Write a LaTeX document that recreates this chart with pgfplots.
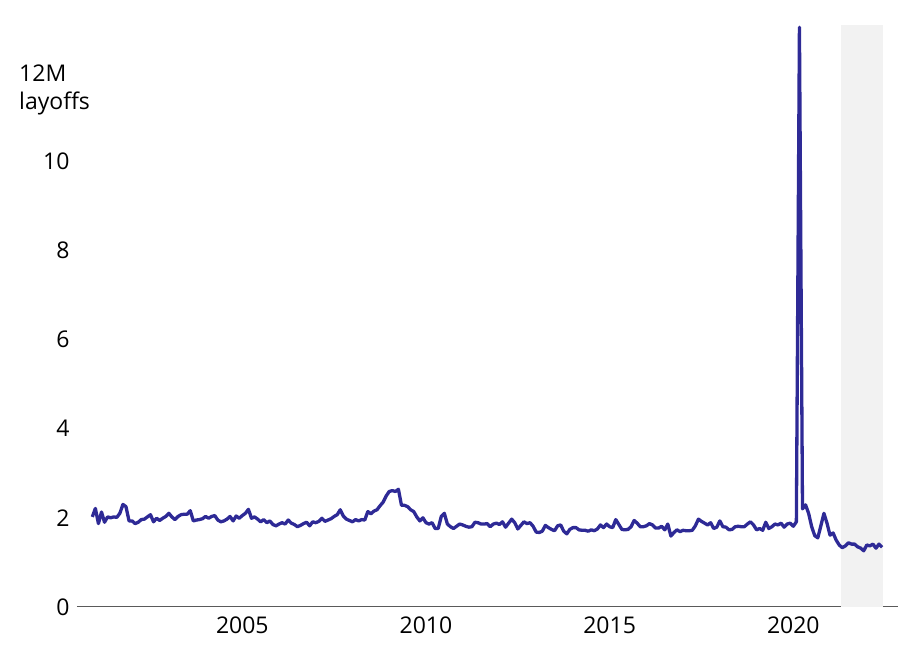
\documentclass[border=0pt]{standalone}
\usepackage{pgfplots}
\pgfplotsset{compat=1.18}
\usepackage{pgfplotstable}
\usepackage{fontspec}
\setmainfont{Open Sans}
\definecolor{lineblue}{RGB}{46,42,150}
\definecolor{shade}{RGB}{242,242,242}
\definecolor{axisgray}{RGB}{90,90,90}
\pgfplotstableread{
k v
0 2.02
1 2.21
2 1.87
3 2.13
4 1.90
5 2.02
6 2.00
7 2.02
8 2.01
9 2.10
10 2.30
11 2.25
12 1.93
13 1.93
14 1.87
15 1.90
16 1.96
17 1.97
18 2.02
19 2.07
20 1.91
21 1.99
22 1.94
23 1.99
24 2.03
25 2.10
26 2.02
27 1.96
28 2.03
29 2.07
30 2.08
31 2.08
32 2.16
33 1.93
34 1.95
35 1.96
36 1.98
37 2.03
38 1.99
39 2.03
40 2.05
41 1.95
42 1.91
43 1.93
44 1.97
45 2.03
46 1.93
47 2.04
48 1.99
49 2.05
50 2.10
51 2.19
52 1.99
53 2.02
54 1.97
55 1.91
56 1.96
57 1.89
58 1.93
59 1.85
60 1.82
61 1.86
62 1.89
63 1.86
64 1.95
65 1.88
66 1.85
67 1.80
68 1.83
69 1.87
70 1.90
71 1.82
72 1.91
73 1.89
74 1.92
75 1.99
76 1.92
77 1.95
78 1.98
79 2.03
80 2.07
81 2.18
82 2.04
83 1.97
84 1.94
85 1.91
86 1.96
87 1.93
88 1.96
89 1.95
90 2.14
91 2.09
92 2.15
93 2.18
94 2.27
95 2.35
96 2.49
97 2.59
98 2.61
99 2.59
100 2.64
101 2.28
102 2.28
103 2.25
104 2.18
105 2.14
106 2.02
107 1.93
108 2.00
109 1.89
110 1.86
111 1.89
112 1.76
113 1.76
114 2.03
115 2.10
116 1.86
117 1.80
118 1.76
119 1.81
120 1.86
121 1.84
122 1.81
123 1.79
124 1.80
125 1.90
126 1.89
127 1.86
128 1.86
129 1.87
130 1.80
131 1.86
132 1.88
133 1.85
134 1.91
135 1.79
136 1.88
137 1.97
138 1.89
139 1.75
140 1.83
141 1.91
142 1.87
143 1.89
144 1.81
145 1.68
146 1.67
147 1.70
148 1.83
149 1.78
150 1.74
151 1.71
152 1.82
153 1.84
154 1.70
155 1.64
156 1.74
157 1.78
158 1.78
159 1.73
160 1.72
161 1.72
162 1.70
163 1.73
164 1.71
165 1.75
166 1.84
167 1.78
168 1.86
169 1.80
170 1.78
171 1.96
172 1.85
173 1.74
174 1.73
175 1.74
176 1.80
177 1.94
178 1.88
179 1.80
180 1.80
181 1.82
182 1.87
183 1.84
184 1.77
185 1.77
186 1.81
187 1.73
188 1.86
189 1.59
190 1.67
191 1.73
192 1.69
193 1.72
194 1.71
195 1.71
196 1.72
197 1.82
198 1.97
199 1.92
200 1.88
201 1.84
202 1.89
203 1.76
204 1.79
205 1.93
206 1.80
207 1.79
208 1.73
209 1.74
210 1.80
211 1.81
212 1.80
213 1.80
214 1.86
215 1.91
216 1.84
217 1.73
218 1.76
219 1.72
220 1.90
221 1.76
222 1.80
223 1.86
224 1.84
225 1.88
226 1.79
227 1.86
228 1.88
229 1.81
230 1.91
231 13.00
232 2.20
233 2.29
234 2.10
235 1.80
236 1.60
237 1.55
238 1.82
239 2.10
240 1.88
241 1.61
242 1.66
243 1.50
244 1.39
245 1.33
246 1.37
247 1.44
248 1.41
249 1.41
250 1.35
251 1.32
252 1.26
253 1.39
254 1.37
255 1.41
256 1.32
257 1.41
258 1.34
}\layoffs
\begin{document}
\begin{tikzpicture}
\begin{axis}[
  scale only axis,
  width=821pt, height=582pt,
  xmin=-5, xmax=263.2,
  ymin=0, ymax=13.05,
  axis lines*=left,
  separate axis lines,
  x axis line style={-, draw=axisgray, line width=1pt},
  y axis line style={draw=none},
  major tick length=0pt,
  tick style={draw=none},
  xtick={49,109,169,229},
  xticklabels={2005,2010,2015,2020},
  ytick={0,2,4,6,8,10},
  /pgf/number format/assume math mode=true,
  ticklabel style={font=\fontsize{23}{27}\selectfont, text=black},
  xticklabel style={yshift=-6pt},
  yticklabel style={xshift=-4pt},
  clip=false,
]
\addplot[fill=shade, draw=none] coordinates {(244.6,0) (244.6,13.05) (258.3,13.05) (258.3,0)} -- cycle;
\addplot[color=lineblue, line width=3.3pt, line join=round, no markers] table[x=k, y=v] {\layoffs};
\node[anchor=base west, font=\fontsize{23}{27}\selectfont, inner sep=0pt] at ([xshift=-58pt, yshift=-10pt]axis cs:-5,12) {12M};
\node[anchor=base west, font=\fontsize{23}{27}\selectfont, inner sep=0pt] at ([xshift=-58pt, yshift=-38pt]axis cs:-5,12) {layoffs};
\end{axis}
\pgfresetboundingbox
\path (current axis.south west) ++(-77pt,-56pt) rectangle ++(918pt,663pt);
\end{tikzpicture}
\end{document}
